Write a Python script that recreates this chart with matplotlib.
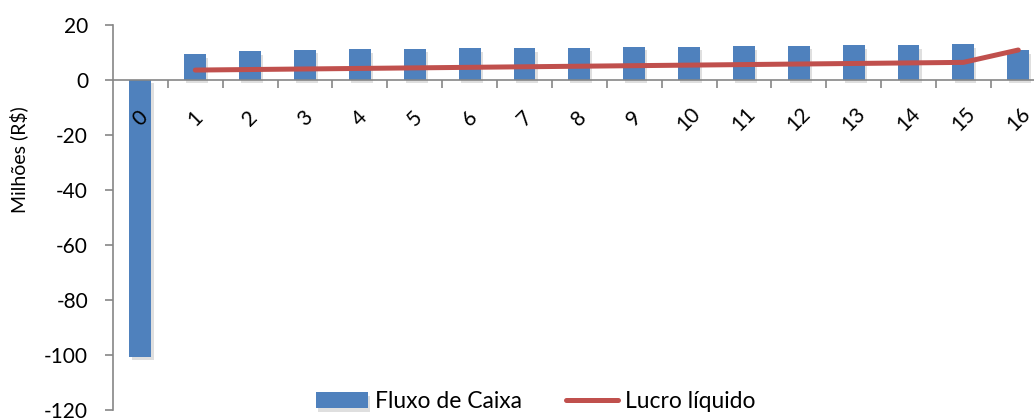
import matplotlib.pyplot as plt
import matplotlib.patheffects as pe
import numpy as np

# anos do projeto e valores em milhões de R$
anos = list(range(17))
fluxo_caixa = [-100.7, 9.3, 10.5, 10.9, 11.2, 11.3, 11.5, 11.6, 11.7,
               12.0, 12.1, 12.2, 12.5, 12.7, 12.7, 13.0, 10.8]
anos_lucro = list(range(1, 17))
lucro_liquido = [3.6, 3.8, 4.0, 4.2, 4.4, 4.6, 4.8, 5.0, 5.2,
                 5.4, 5.6, 5.8, 6.0, 6.2, 6.4, 10.9]

plt.rcParams['font.family'] = ['Lato', 'DejaVu Sans']
plt.rcParams['axes.unicode_minus'] = False

fig = plt.figure(figsize=(10.34, 4.19), dpi=100)
ax = fig.add_axes([0.1093, 0.0215, 0.902, 0.9189])

cinza = '#868686'
bars = ax.bar(anos, fluxo_caixa, width=0.4, color='#4F81BD', zorder=0.8,
              label='Fluxo de Caixa')
for b in bars:
    b.set_path_effects([pe.SimplePatchShadow(offset=(1.5, -2.5), shadow_rgbFace='#808080', alpha=0.25),
                        pe.Normal()])
linha, = ax.plot(anos_lucro, lucro_liquido, color='#C0504D', lw=3.6,
                 solid_capstyle='round', zorder=4, label='Lucro líquido')

ax.set_xlim(-0.5, 16.5)
ax.set_ylim(-120, 20)
ax.set_yticks(np.arange(-120, 21, 20))

for s in ['top', 'right']:
    ax.spines[s].set_visible(False)
ax.spines['bottom'].set_position(('data', 0))
for s in ['bottom', 'left']:
    ax.spines[s].set_color(cinza)
    ax.spines[s].set_linewidth(1.2)
    ax.spines[s].set_zorder(1)
ax.xaxis.set_zorder(3)

ax.set_xticks(anos)
ax.set_xticklabels([str(a) for a in anos], rotation=45, ha='center', va='center')
ax.set_xticks(np.arange(0.5, 16.5, 1), minor=True)
ax.tick_params(axis='x', which='major', length=0, pad=28, labelsize=15)
ax.tick_params(axis='x', which='minor', length=6, width=1.2, color=cinza)
ax.tick_params(axis='y', length=6, width=1.2, color=cinza, pad=12, labelsize=15)

ax.set_ylabel('Milhões (R$)', fontsize=14)
ax.yaxis.set_label_coords(-0.091, 0.649)

fig.legend(handles=[bars, linha], loc='center', bbox_to_anchor=(0.518, 0.0406),
           ncol=2, frameon=False, fontsize=16.5, handlelength=2.3,
           handletextpad=0.3, columnspacing=1.9)

fig.savefig('out.png', dpi=100)
